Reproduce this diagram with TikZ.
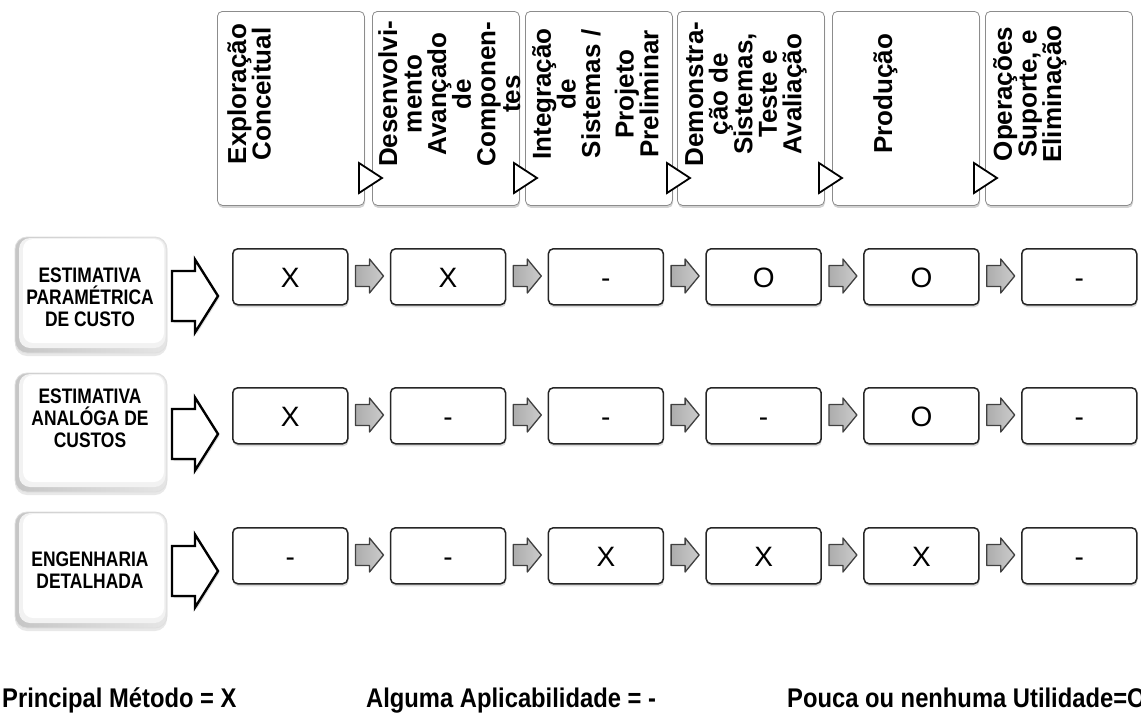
\documentclass[tikz,border=0pt]{standalone}
\usepackage{fontspec}
\setmainfont{Liberation Sans}
\newfontfamily\narrowsans[FakeStretch=0.83]{Liberation Sans}
\newfontfamily\legendsans[FakeStretch=0.88]{Liberation Sans}
\usetikzlibrary{shadows}
\begin{document}
\begin{tikzpicture}[x=1pt,y=-1pt,
  hdr/.style={draw=black!45, line width=0.8pt, fill=white, rounded corners=5pt,
    minimum width=147pt, minimum height=194pt, inner sep=0pt, anchor=north west,
    drop shadow={shadow xshift=0.6pt, shadow yshift=-2.5pt, opacity=0.35}},
  hdrtxt/.style={rotate=90, anchor=north, align=center, inner sep=0pt,
    font=\bfseries\fontsize{26}{24.6}\selectfont},
  tri/.style={draw=black, line width=1.8pt, fill=white, line join=miter},
  lbl/.style={draw=gray!25, line width=0.8pt, rounded corners=12pt, minimum width=152pt,
    inner sep=0pt, left color=gray!45, right color=gray!20,
    drop shadow={shadow xshift=0pt, shadow yshift=-3pt, opacity=0.18},
    path picture={
      \fill[gray!10, rounded corners=11pt]
        ([shift={(4pt,-1pt)}]path picture bounding box.north west) rectangle
        ([shift={(-1.5pt,5pt)}]path picture bounding box.south east);
      \fill[white, rounded corners=10pt]
        ([shift={(8pt,-2pt)}]path picture bounding box.north west) rectangle
        ([shift={(-3pt,10pt)}]path picture bounding box.south east);}},
  lbltxt/.style={anchor=north, align=center, inner sep=0pt,
    font=\narrowsans\bfseries\fontsize{21}{22}\selectfont},
  cell/.style={draw=black!85, line width=1.5pt, fill=white, rounded corners=5pt,
    minimum width=115pt, minimum height=56pt, inner sep=0pt, anchor=north west,
    font=\fontsize{28}{32}\selectfont, text height=22pt, text depth=0pt,
    drop shadow={shadow xshift=0.6pt, shadow yshift=-2.5pt, opacity=0.3}},
  legend/.style={anchor=base west, inner sep=0pt, font=\legendsans\bfseries\fontsize{27}{30}\selectfont},
  bigarrow/.pic={
    \fill[black, opacity=0.12] (1.5,-23) -- (24.5,-23) -- (24.5,-34.5) -- (47.5,2) --
      (24.5,38.5) -- (24.5,27) -- (1.5,27) -- cycle;
    \draw[line width=2.4pt, fill=white, line join=miter] (0,-25) -- (23,-25) -- (23,-36.5) --
      (46,0) -- (23,36.5) -- (23,25) -- (0,25) -- cycle;},
  smallarrow/.pic={
    \draw[line width=1.3pt, draw=black!75, left color=gray!65, right color=gray!40, line join=round]
      (0,-10.5) -- (14,-10.5) -- (14,-17) -- (28,0) -- (14,17) -- (14,10.5) -- (0,10.5) -- cycle;}
]
\useasboundingbox[fill=white] (0,0) rectangle (1141,713);

% header boxes
\node[hdr] (H1) at (217,11) {};
\node[hdr] (H2) at (372,11) {};
\node[hdr] (H3) at (525,11) {};
\node[hdr] (H4) at (677,11) {};
\node[hdr] (H5) at (832,11) {};
\node[hdr] (H6) at (985,11) {};

\node[hdrtxt] (HT1) at (227,94) {Exploração\\Conceitual};
\node[hdrtxt] (HT2) at (378,94) {Desenvolvi-\\mento\\Avançado\\de\\Componen-\\tes};
\node[hdrtxt] (HT3) at (532,94) {Integração\\de\\Sistemas /\\[9pt]Projeto\\Preliminar};
\node[hdrtxt] (HT4) at (685,94) {Demonstra-\\ção de\\Sistemas,\\Teste e\\Avaliação};
\node[hdrtxt] (HT5) at (873,94) {Produção};
\node[hdrtxt] (HT6) at (993,94) {Operações\\Suporte, e\\Eliminação};

\foreach \r in {364,519,672,824,979}
  \draw[tri, shift={(\r,178)}] (-5,-15) -- (18,0) -- (-5,15) -- cycle;

% row labels
\node[lbl, minimum height=116pt] (L1) at (91,295) {};
\node[lbl, minimum height=119pt] (L2) at (91,432.5) {};
\node[lbl, minimum height=116pt] (L3) at (91,570) {};
\node[lbltxt] (LT1) at (90,268) {ESTIMATIVA\\PARAMÉTRICA\\DE CUSTO};
\node[lbltxt] (LT2) at (90,389) {ESTIMATIVA\\ANALÓGA DE\\CUSTOS};
\node[lbltxt] (LT3) at (90,552) {ENGENHARIA\\DETALHADA};

% big arrows
\pic at (172,296) {bigarrow};
\pic at (172,434) {bigarrow};
\pic at (172,571) {bigarrow};

% cells row 1
\node[cell] (C11) at (232,248) {X};
\node[cell] (C12) at (389.8,248) {X};
\node[cell] (C13) at (547.6,248) {-};
\node[cell] (C14) at (705.4,248) {O};
\node[cell] (C15) at (863.2,248) {O};
\node[cell] (C16) at (1021,248) {-};
% cells row 2
\node[cell] (C21) at (232,387) {X};
\node[cell] (C22) at (389.8,387) {-};
\node[cell] (C23) at (547.6,387) {-};
\node[cell] (C24) at (705.4,387) {-};
\node[cell] (C25) at (863.2,387) {O};
\node[cell] (C26) at (1021,387) {-};
% cells row 3
\node[cell] (C31) at (232,527) {-};
\node[cell] (C32) at (389.8,527) {-};
\node[cell] (C33) at (547.6,527) {X};
\node[cell] (C34) at (705.4,527) {X};
\node[cell] (C35) at (863.2,527) {X};
\node[cell] (C36) at (1021,527) {-};

% small arrows
\foreach \y in {276,415,555}
  \foreach \x in {355.5,513.3,671.1,828.9,986.7}
    \pic at (\x,\y) {smallarrow};

% legend
\node[legend] (K1) at (2,707) {Principal Método = X};
\node[legend] (K2) at (366,707) {Alguma Aplicabilidade = -};
\node[legend] (K3) at (787,707) {Pouca ou nenhuma Utilidade=O};
\end{tikzpicture}
\end{document}
